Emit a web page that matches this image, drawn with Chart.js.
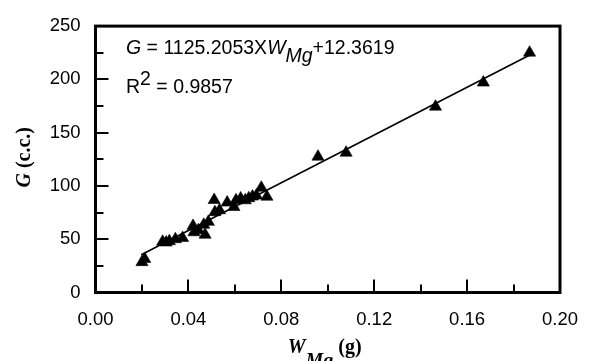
<!DOCTYPE html>
<html><head><meta charset="utf-8">
<script src="https://cdn.jsdelivr.net/npm/chart.js@4"></script>
<style>html,body{margin:0;padding:0;background:#fff;overflow:hidden}#wrap{width:594px;height:361px}</style>
</head><body><div id="wrap"><canvas id="c" width="594" height="361"></canvas></div>
<script>
// ---- data ----
const wMg = [0.0200, 0.0212, 0.0289, 0.0304, 0.0318, 0.0344, 0.0375,
             0.0420, 0.0424, 0.0443, 0.0466, 0.0472, 0.0486,
             0.0511, 0.0514, 0.0534,
             0.0567, 0.0596, 0.0605, 0.0625, 0.0645, 0.0660, 0.0676, 0.0693, 0.0714, 0.0738,
             0.0958, 0.1079, 0.1464, 0.1670, 0.1869];
const gCC = [28.5, 31.5, 47.6, 46.9, 48.2, 50.0, 51.2,
             62.5, 56.5, 58.5, 63.5, 54.2, 66.3,
             86.8, 75.4, 77.2,
             84.4, 80.2, 86.5, 88.3, 86.5, 88.5, 90.0, 91.0, 98.3, 89.9,
             127.5, 131.2, 174.4, 197.0, 225.1];
const trendX = [0.0197, 0.1870];
const trendY = [35.5, 222.8];
const xTickLabels = ['0.00', '0.04', '0.08', '0.12', '0.16', '0.20'];
const yTickLabels = ['0', '50', '100', '150', '200', '250'];
const equationText = ['G', ' = 1125.2053X', 'W', 'Mg', '+12.3619'];
const r2Text = ['R', '2', ' = 0.9857'];
const xTitle = ['W', 'Mg', ' (g)'];
const yTitle = ['G', ' (c.c.)'];

const SANS = '"Liberation Sans", Arial, sans-serif';
const SERIF = '"Liberation Serif", "Times New Roman", serif';

function drawRuns(ctx, x, y, parts) {
  for (const p of parts) {
    ctx.font = p.f;
    ctx.fillText(p.t, x, y + (p.dy || 0));
    x += ctx.measureText(p.t).width;
  }
}
function runsWidth(ctx, parts) {
  let w = 0;
  for (const p of parts) { ctx.font = p.f; w += ctx.measureText(p.t).width; }
  return w;
}

const framePlugin = {
  id: 'frame',
  afterDatasetsDraw(chart) {
    const ctx = chart.ctx, a = chart.chartArea;
    const xs = chart.scales.x, ys = chart.scales.y;
    ctx.save();
    ctx.strokeStyle = '#000';
    ctx.lineWidth = 2;
    ctx.lineCap = 'butt';
    xs.ticks.forEach((t, i) => {
      const px = Math.round(xs.getPixelForValue(t.value));
      const len = (i % 2 === 0) ? 13 : 8;
      ctx.beginPath(); ctx.moveTo(px, a.bottom); ctx.lineTo(px, a.bottom - len); ctx.stroke();
    });
    ys.ticks.forEach((t, i) => {
      const py = Math.round(ys.getPixelForValue(t.value));
      const len = (i % 2 === 0) ? 13 : 8;
      ctx.beginPath(); ctx.moveTo(a.left, py); ctx.lineTo(a.left + len, py); ctx.stroke();
    });
    ctx.lineWidth = 3;
    ctx.strokeRect(a.left, a.top, a.right - a.left, a.bottom - a.top);
    ctx.restore();
  },
  afterDraw(chart) {
    const ctx = chart.ctx, a = chart.chartArea;
    ctx.save();
    ctx.fillStyle = '#000';
    ctx.textBaseline = 'alphabetic';
    ctx.textAlign = 'left';
    const eqF = 19.5;
    const it = 'italic ' + eqF + 'px ' + SANS, nm = eqF + 'px ' + SANS;
    drawRuns(ctx, 126, 54, [
      {t: equationText[0], f: it},
      {t: equationText[1], f: nm},
      {t: equationText[2], f: it},
      {t: equationText[3], f: it, dy: 8},
      {t: equationText[4], f: nm}
    ]);
    drawRuns(ctx, 126, 93, [
      {t: r2Text[0], f: nm},
      {t: r2Text[1], f: nm, dy: -8},
      {t: r2Text[2], f: nm}
    ]);
    const tF = 20;
    const bi = 'bold italic ' + tF + 'px ' + SERIF, b = 'bold ' + tF + 'px ' + SERIF;
    const xParts = [
      {t: xTitle[0], f: bi},
      {t: xTitle[1], f: bi, dy: 14},
      {t: xTitle[2], f: b}
    ];
    const xw = runsWidth(ctx, xParts);
    drawRuns(ctx, (a.left + a.right) / 2 - xw / 2 - 3, 353, xParts);
    const yParts = [{t: yTitle[0], f: bi}, {t: yTitle[1], f: b}];
    const yw = runsWidth(ctx, yParts);
    ctx.translate(30, (a.top + a.bottom) / 2 - 2);
    ctx.rotate(-Math.PI / 2);
    drawRuns(ctx, -yw / 2, 0, yParts);
    ctx.restore();
  }
};

const points = wMg.map((x, i) => ({x: x, y: gCC[i]}));
const trend = trendX.map((x, i) => ({x: x, y: trendY[i]}));

new Chart(document.getElementById('c'), {
  type: 'scatter',
  data: {
    datasets: [
      {type: 'line', data: trend, borderColor: '#000', borderWidth: 1.6, pointRadius: 0, fill: false, tension: 0},
      {data: points, pointStyle: 'triangle', pointRadius: 7, pointHoverRadius: 7,
       backgroundColor: '#000', borderColor: '#000', borderWidth: 0.6}
    ]
  },
  options: {
    responsive: false,
    devicePixelRatio: 1,
    animation: false,
    events: [],
    layout: {padding: {top: 16.5, right: 29.5, left: 0, bottom: 0}},
    plugins: {legend: {display: false}, tooltip: {enabled: false}},
    scales: {
      x: {
        type: 'linear', min: 0, max: 0.2,
        afterFit: s => { s.height = 68.5; },
        grid: {display: false, drawTicks: false},
        border: {display: false},
        ticks: {
          stepSize: 0.02, autoSkip: false, maxRotation: 0, minRotation: 0,
          padding: 16, color: '#000', font: {family: SANS, size: 18.5},
          callback: (v) => { const k = Math.round(v * 50); return k % 2 === 0 ? xTickLabels[k / 2] : ''; }
        }
      },
      y: {
        type: 'linear', min: 0, max: 250,
        afterFit: s => { s.width = 95.5; },
        grid: {display: false, drawTicks: false},
        border: {display: false},
        ticks: {
          stepSize: 25, autoSkip: false, padding: 15, color: '#000', font: {family: SANS, size: 18.5},
          callback: (v) => { const k = Math.round(v / 25); return k % 2 === 0 ? yTickLabels[k / 2] : ''; }
        }
      }
    }
  },
  plugins: [framePlugin]
});
</script>
</body></html>
